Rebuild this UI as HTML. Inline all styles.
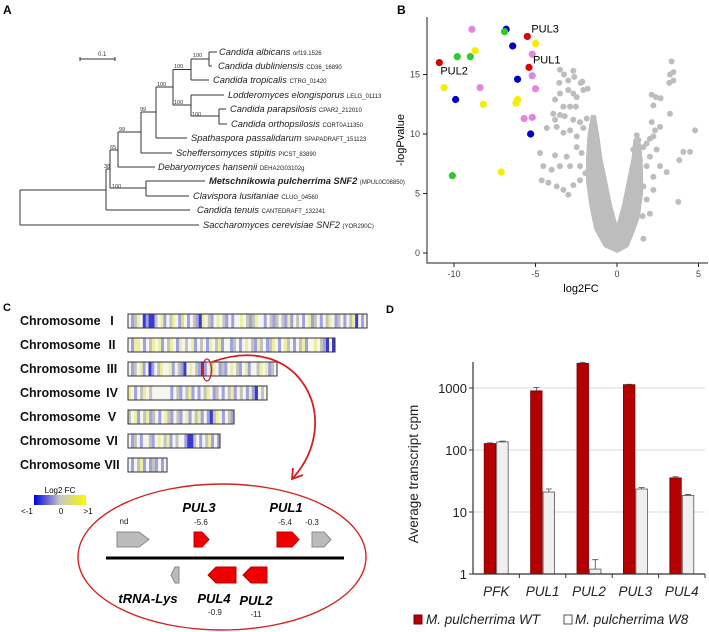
<!DOCTYPE html>
<html><head><meta charset="utf-8">
<style>
html,body{margin:0;padding:0;background:#fff;}
body{width:709px;height:632px;overflow:hidden;font-family:"Liberation Sans",Arial,sans-serif;}
svg{display:block;}
</style></head>
<body>
<svg id="fig" width="709" height="632" viewBox="0 0 709 632" xmlns="http://www.w3.org/2000/svg" font-family="Liberation Sans, Arial, sans-serif">
<!-- Panel labels -->
<text x="3" y="14" font-size="12" font-weight="bold">A</text>
<text x="397" y="14" font-size="12" font-weight="bold">B</text>
<text x="3" y="311" font-size="11" font-weight="bold">C</text>
<text x="386" y="313" font-size="11" font-weight="bold">D</text>

<!-- Panel A: tree -->
<g id="tree" stroke="#333" stroke-width="1" fill="none">
<line x1="80" y1="59" x2="115" y2="59"/>
<line x1="80" y1="57" x2="80" y2="61"/><line x1="115" y1="57" x2="115" y2="61"/>
<path d="M209,52H217M209,66H212M209,52V66
M191,59H209M191,80H209M191,59V80
M173,69.5H191M219,109H226M219,124H227M219,109V124
M191,95H224M191,116H219M191,95V116
M173,105H191M173,69.5V105
M156,87H173M156,138H187M156,87V138
M141,112H156M141,153H172M141,112V153
M118,132H141M118,167H155M118,132V167
M146,181H205M146,196H189M146,181V196
M110,150H118M110,188H146M110,150V188
M106,169H110M106,210H190M106,169V210
M20,190H106M20,225H199M20,190V225"/>
</g>
<g font-size="5.5" fill="#333">
<text x="98" y="56" font-size="6">0.1</text>
<text x="193" y="57">100</text><text x="174" y="68">100</text><text x="157" y="86">100</text>
<text x="174" y="104">100</text><text x="192" y="116">100</text><text x="140" y="111">99</text>
<text x="119" y="131">99</text><text x="110" y="149">65</text><text x="104" y="168">38</text>
<text x="112" y="188">100</text>
</g>
<g font-size="9.3" fill="#222">
<text x="219" y="55"><tspan font-style="italic">Candida albicans</tspan> <tspan font-size="6">orf19.1526</tspan></text>
<text x="218" y="69"><tspan font-style="italic">Candida dubliniensis</tspan> <tspan font-size="6">CD36_16890</tspan></text>
<text x="213" y="83"><tspan font-style="italic">Candida tropicalis</tspan> <tspan font-size="6">CTRG_01420</tspan></text>
<text x="228" y="98"><tspan font-style="italic">Lodderomyces elongisporus</tspan> <tspan font-size="6">LELG_01113</tspan></text>
<text x="230" y="112"><tspan font-style="italic">Candida parapsilosis</tspan> <tspan font-size="6">CPAR2_212010</tspan></text>
<text x="231" y="127"><tspan font-style="italic">Candida orthopsilosis</tspan> <tspan font-size="6">CORT0A11350</tspan></text>
<text x="191" y="141"><tspan font-style="italic">Spathaspora passalidarum</tspan> <tspan font-size="6">SPAPADRAFT_151123</tspan></text>
<text x="176" y="156"><tspan font-style="italic">Scheffersomyces stipitis</tspan> <tspan font-size="6">PICST_83890</tspan></text>
<text x="158" y="170"><tspan font-style="italic">Debaryomyces hansenii</tspan> <tspan font-size="6">DEHA2G03102g</tspan></text>
<text x="209" y="184"><tspan font-style="italic" font-weight="bold">Metschnikowia pulcherrima SNF2</tspan> <tspan font-size="6">(MPUL0C08850)</tspan></text>
<text x="193" y="199"><tspan font-style="italic">Clavispora lusitaniae</tspan> <tspan font-size="6">CLUG_04560</tspan></text>
<text x="197" y="213"><tspan font-style="italic">Candida tenuis</tspan> <tspan font-size="6">CANTEDRAFT_132241</tspan></text>
<text x="203" y="228"><tspan font-style="italic">Saccharomyces cerevisiae SNF2</tspan> <tspan font-size="6">(YOR290C)</tspan></text>
</g>

<!-- Panel B -->
<g id="volcano"></g>

<!-- Panel C -->
<g id="chroms"></g>
<g>
<ellipse cx="207" cy="370" rx="4.5" ry="11" fill="none" stroke="#d62020" stroke-width="1.3"/>
<path d="M212,362 C300,330 345,420 293,478" fill="none" stroke="#d62020" stroke-width="1.8"/>
<path d="M293,468 L292,479 L303,475" fill="none" stroke="#d62020" stroke-width="1.8"/>
</g>
<g>
<defs><linearGradient id="lg" x1="0" x2="1"><stop offset="0" stop-color="#0000e0"/><stop offset="0.5" stop-color="#c8c8c8"/><stop offset="1" stop-color="#f8f800"/></linearGradient></defs>
<text x="60" y="493" font-size="8" text-anchor="middle">Log2 FC</text>
<rect x="34" y="495" width="52" height="10" fill="url(#lg)"/>
<text x="27" y="514" font-size="8" text-anchor="middle">&lt;-1</text>
<text x="61" y="514" font-size="8" text-anchor="middle">0</text>
<text x="88" y="514" font-size="8" text-anchor="middle">&gt;1</text>
</g>
<g>
<ellipse cx="222" cy="557" rx="144" ry="73" fill="none" stroke="#d62020" stroke-width="1.4"/>
<line x1="106" y1="558" x2="344" y2="558" stroke="#000" stroke-width="3"/>
<path d="M117,532H139L149,539.5L139,547H117Z" fill="#bbb" stroke="#888"/>
<path d="M194,532H202L209,539.5L202,547H194Z" fill="#ee0000" stroke="#b00"/>
<path d="M277,532H292L299,539.5L292,547H277Z" fill="#ee0000" stroke="#b00"/>
<path d="M312,532H324L331,539.5L324,547H312Z" fill="#bbb" stroke="#888"/>
<path d="M179,567V583H175L171,575L175,567Z" fill="#bbb" stroke="#888"/>
<path d="M236,567V583H216L208,575L216,567Z" fill="#ee0000" stroke="#b00"/>
<path d="M267,567V583H251L243,575L251,567Z" fill="#ee0000" stroke="#b00"/>
<g font-weight="bold" font-style="italic" font-size="13" text-anchor="middle">
<text x="199" y="512">PUL3</text><text x="286" y="512">PUL1</text>
<text x="148" y="603">tRNA-Lys</text><text x="214" y="603">PUL4</text><text x="256" y="605">PUL2</text>
</g>
<g font-size="8" text-anchor="middle" fill="#222">
<text x="124" y="524">nd</text><text x="201" y="525">-5.6</text><text x="285" y="525">-5.4</text><text x="312" y="525">-0.3</text>
<text x="215" y="615">-0.9</text><text x="256" y="617">-11</text>
</g>
</g>

<!-- Panel D -->
<g id="bars"></g>
</svg>

<script>
// ---------- Panel B data ----------
const sigFC   = [-8.9,-6.8,-6.9,-5.5,-5.0,-6.4,-8.7,-9.8,-9.0,-5.2,-10.9,-5.4,-5.2,-6.1,-10.6,-8.4,-5.0,-9.9,-6.1,-6.2,-8.2,-5.7,-5.2,-5.3,-7.1,-10.1];
const sigP    = [18.8,18.8,18.6,18.2,17.6,17.4,17.0,16.5,16.5,16.7,16.0,15.6,14.9,14.6,13.9,13.9,13.8,12.9,12.9,12.6,12.5,11.3,11.4,10.0,6.8,6.5];
const sigCol  = ['pink','blue','green','red','yellow','blue','yellow','green','green','pink','red','red','pink','blue','yellow','pink','pink','blue','yellow','yellow','yellow','pink','pink','blue','yellow','green'];
const grayFC  = [-3.5,-3.25,-2.99,-2.68,-2.62,-2.23,-2.13,-3.54,-2.99,-2.68,-2.47,-2.07,-1.8,-3.5,-3.8,-3.29,-2.88,-2.52,-3.91,-3.5,-3.21,-2.68,-2.27,-3.7,-3.29,-2.88,-2.47,-2.07,-1.86,-4.31,-3.8,-4.72,-3.8,-3.09,-2.47,-2.17,-4.52,-4.01,-3.5,-2.88,-2.27,-4.62,-4.21,-3.7,-3.29,-2.99,-2.68,-2.27,-1.94,-1.66,-1.45,-1.66,-1.55,-1.45,
 3.35,3.25,3.46,3.46,3.21,2.13,2.39,2.68,2.23,2.13,2.33,2.23,2.02,1.82,1.62,2.64,4.79,4.07,4.48,3.82,3.05,3.76,3.25,2.02,1.82,2.23,1.62,1.82,1.57,2.02,2.23,2.64,2.43,1.41,1.21,1.31,1.0,1.1,1.62,1.21];
const grayP   = [15.4,15.0,14.5,15.3,14.8,14.3,14.4,14.3,13.7,13.4,13.1,13.7,13.8,13.4,12.9,12.3,12.3,12.3,11.7,11.6,11.5,11.2,11.0,10.6,10.1,10.3,9.8,10.5,11.3,10.5,11.2,8.4,8.2,8.1,8.9,8.4,7.3,7.0,7.3,7.3,7.3,6.1,5.9,5.6,5.3,4.9,5.7,6.1,6.7,7.3,7.8,9.5,10.3,11.2,
 16.1,15.0,15.2,14.5,14.3,13.3,13.1,13.0,12.4,11.0,10.3,9.8,9.6,9.2,8.9,10.6,10.3,8.5,8.5,7.8,6.8,4.3,11.7,8.1,7.3,6.4,5.6,4.5,3.1,3.3,5.3,7.3,8.7,7.8,6.7,9.5,8.7,4.5,1.2,9.9];
const envFC   = [0,-0.8,-1.4,-1.7,-1.9,-1.9,-1.8,-1.6,-1.3,-1.1,-0.9,-0.6,-0.3,0,0.3,0.6,0.9,1.0,1.3,1.5,1.6,1.6,1.4,1.0,0.7];
const envP    = [0,0.5,2,4,6,8,10,11.6,11.6,10,8,6,4,2.5,4,6,8,9.5,10,9,7,5,3,1.5,0.5];
const xTicks  = [-10,-5,0,5];
const yTicks  = [0,5,10,15];
const labelNames = ['PUL3','PUL1','PUL2'];
const labelFC = [-5.5,-5.4,-10.9];
const labelP  = [18.2,15.6,16.0];

// ---------- Panel D data ----------
const categories = ['PFK','PUL1','PUL2','PUL3','PUL4'];
const wtValues   = [127,900,2500,1130,35.5];
const wtErr      = [3,120,100,20,1.5];
const w8Values   = [135,21,1.2,23.5,18.5];
const w8Err      = [4,2.5,0.5,1.2,0.6];
const dTicks     = [1,10,100,1000];

// ---------- Panel C data ----------
const chromNames = ['I','II','III','IV','V','VI','VII'];
const chromCells = [
 '.bgy.BbBBg.yb.gy.bY.b.gbBy.gb.y.gb.b..y.gbgy..b.gbg.gbyb.g.b.ybg.b.gy.bg.b.gyB.b.',
 '.byy.b.gy.yb.gy.by.g.yb.g.by.gyb..bg.b.y.gbyg.bgy.b.yg.b.gyb..y.gbB.B',
 '.bg.yb.Bb.gy..yb.gbB.y.gbBb.gy.bgb.y.gb.yb..gy.ybg.',
 'y.b.gy.g......b.gb.gyb.b.gy.bg.b.gyb.g.bybB.g.',
 'g.yb.gybg.b.ygb.gb.yb.gyb.bBgy.b.gb',
 '.bg.b..gb.y.gyb.g..bBBg.b.gyb.b',
 '.b.gyb.bgb.b.'
];
const chromLen = [239,207,149,139,106,92,39];

const NS='http://www.w3.org/2000/svg';
function mk(tag, attrs, parent){const e=document.createElementNS(NS,tag);for(const k in attrs)e.setAttribute(k,attrs[k]);parent.appendChild(e);return e;}

// ----- Volcano -----
(function(){
 const g=document.getElementById('volcano');
 const x0=617,xs=16.3,y0=253,ys=11.9;
 const X=v=>x0+v*xs, Y=v=>y0-v*ys;
 const colors={red:'#e00000',blue:'#0000c0',green:'#2ccc2c',yellow:'#f4ee00',pink:'#e088e0'};
 let pts=envFC.map((f,i)=>X(f)+','+Y(envP[i])).join(' ');
 const poly=mk('polygon',{points:pts,fill:'#bdbdbd'},g);
 
 
 grayFC.forEach((f,i)=>{const c=mk('circle',{cx:X(f),cy:Y(grayP[i]),r:3,fill:'#bdbdbd'},g);
  
  });
 sigFC.forEach((f,i)=>{const c=mk('circle',{cx:X(f),cy:Y(sigP[i]),r:3.6,fill:colors[sigCol[i]]},g);
  
  });
 const ax=mk('path',{d:`M427,17V263H708`,fill:'none',stroke:'#222','stroke-width':1},g);
 
 
 xTicks.forEach(t=>{mk('line',{x1:X(t),x2:X(t),y1:263,y2:267,stroke:'#222'},g);
  const tx=mk('text',{x:X(t),y:277,'font-size':9,'text-anchor':'middle',fill:'#444'},g);tx.textContent=t;
  
  });
 yTicks.forEach(t=>{mk('line',{x1:423,x2:427,y1:Y(t),y2:Y(t),stroke:'#222'},g);
  const tx=mk('text',{x:420,y:Y(t)+3,'font-size':9,'text-anchor':'end',fill:'#444'},g);tx.textContent=t;
  
  });
 const xt=mk('text',{x:581,y:292,'font-size':11,'text-anchor':'middle'},g);xt.textContent='log2FC';
 
 
 const yt=mk('text',{x:0,y:0,'font-size':11,'text-anchor':'middle',transform:'translate(404,140) rotate(-90)'},g);yt.textContent='-logPvalue';
 
 
 const offs=[[4,-4],[4,-4],[1,12]];
 labelNames.forEach((n,i)=>{const t=mk('text',{x:X(labelFC[i])+offs[i][0],y:Y(labelP[i])+offs[i][1],'font-size':11},g);t.textContent=n;
  
  });
})();

// ----- Chromosomes -----
(function(){
 const g=document.getElementById('chroms');
 const cmap={'B':'#3a3ad0','b':'#a0a0e4','y':'#eeeea0','Y':'#e4e460','g':'#c4c4b8','.':'#f6f6f0'};
 chromNames.forEach((n,i)=>{
  const y=314+i*24;
  const lab=mk('text',{x:20,y:y+11,'font-size':12.5,'font-weight':'bold',fill:'#111'},g);
  lab.textContent='Chromosome';
  
  
  const num=mk('text',{x:112,y:y+11,'font-size':12.5,'font-weight':'bold','text-anchor':'middle',fill:'#111'},g);
  num.textContent=n;
  
  
  const s=chromCells[i], w=chromLen[i]/s.length;
  for(let k=0;k<s.length;k++){
   const r=mk('rect',{x:128+k*w,y:y,width:w+0.3,height:14,fill:cmap[s[k]]||'#f6f6f0'},g);
   
   
  }
  const b=mk('rect',{x:128,y:y,width:chromLen[i],height:14,fill:'none',stroke:'#333','stroke-width':1},g);
  
  
 });
})();

// ----- Bar chart -----
(function(){
 const g=document.getElementById('bars');
 const left=473,right=705,yb=574,dec=62;
 const Y=v=>yb-Math.log10(v)*dec;
 const gw=(right-left)/categories.length;
 dTicks.forEach(t=>{
  if(t>1){const l=mk('line',{x1:left,x2:right,y1:Y(t),y2:Y(t),stroke:'#d8d8d8'},g);
   
   }
  mk('line',{x1:left-4,x2:left,y1:Y(t),y2:Y(t),stroke:'#333'},g);
  const tx=mk('text',{x:left-6,y:Y(t)+5,'font-size':13,'text-anchor':'end',fill:'#222'},g);tx.textContent=t;
  
  
 });
 categories.forEach((c,i)=>{
  const cx=left+gw*(i+0.5), bw=11.5;
  [[wtValues,wtErr,'#b40000','#700'],[w8Values,w8Err,'#efefef','#555']].forEach((s,j)=>{
   const v=s[0][i], x=cx-bw+j*bw+ (j?0.5:-0.5);
   const r=mk('rect',{x:x,y:Y(v),width:bw,height:yb-Y(v),fill:s[2],stroke:s[3],'stroke-width':0.8},g);
   
   
   const e=v+s[1][i];
   mk('path',{d:`M${x+bw/2},${Y(v)}V${Y(e)}M${x+bw/2-3},${Y(e)}H${x+bw/2+3}`,stroke:'#444','stroke-width':0.8,fill:'none'},g);
  });
  if(i>0) mk('line',{x1:left+gw*i,x2:left+gw*i,y1:yb,y2:yb+4,stroke:'#333'},g);
  const t=mk('text',{x:cx,y:596,'font-size':13.5,'font-style':'italic','text-anchor':'middle',fill:'#222'},g);t.textContent=c;
  
  
 });
 mk('line',{x1:right,x2:right,y1:yb,y2:yb+4,stroke:'#333'},g);
 const ax=mk('path',{d:`M${left},362V${yb}H${right}`,fill:'none',stroke:'#333','stroke-width':1.2},g);
 
 
 const yt=mk('text',{x:0,y:0,'font-size':13.5,'text-anchor':'middle',fill:'#222',transform:'translate(418,474) rotate(-90)'},g);
 yt.textContent='Average transcript cpm';
 
 
 const l1=mk('rect',{x:414,y:615,width:8,height:9,fill:'#b40000',stroke:'#700'},g);
 
 
 const t1=mk('text',{x:426,y:624,'font-size':13.5,'font-style':'italic',fill:'#222'},g);t1.textContent='M. pulcherrima WT';
 
 
 const l2=mk('rect',{x:564,y:615,width:8,height:9,fill:'#fff',stroke:'#555'},g);
 
 
 const t2=mk('text',{x:575,y:624,'font-size':13.5,'font-style':'italic',fill:'#222'},g);t2.textContent='M. pulcherrima W8';
 
 
})();
</script>
</body></html>
